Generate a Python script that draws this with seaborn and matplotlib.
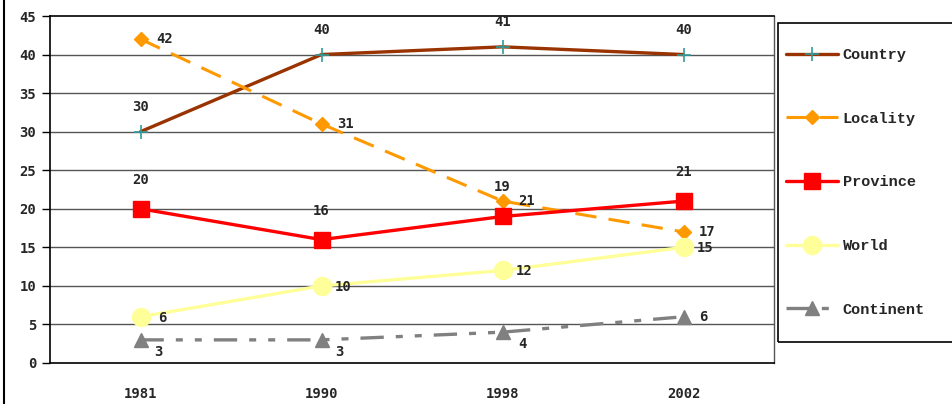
import matplotlib
matplotlib.use("Agg")
import matplotlib.pyplot as plt
import seaborn as sns
import pandas as pd
import numpy as np
from matplotlib.patches import Rectangle
from matplotlib.lines import Line2D

years = ["1981", "1990", "1998", "2002"]
country = [30, 40, 41, 40]
locality = [42, 31, 21, 17]
province = [20, 16, 19, 21]
world = [6, 10, 12, 15]
continent = [3, 3, 4, 6]
series_names = ["Country", "Locality", "Province", "World", "Continent"]
yticks = [0, 5, 10, 15, 20, 25, 30, 35, 40, 45]

sns.set_style("white")
plt.rcParams["font.family"] = ["DejaVu Sans Mono", "DejaVu Sans"]

W, H = 952, 404
fig = plt.figure(figsize=(W / 100, H / 100), dpi=100)
ax = fig.add_axes([50 / W, (H - 363) / H, (774 - 50) / W, (363 - 16) / H])

x = np.arange(len(years))
data = {"Country": country, "Locality": locality, "Province": province,
        "World": world, "Continent": continent}

styles = {
    "Country": dict(color="#993300", ls="-", marker="+", ms=10, mfc="#339999", mec="#339999", mew=1.2, lw=2.4),
    "Locality": dict(color="#FF9900", ls=(0, (7, 4)), marker="D", ms=7, mfc="#FF9900", mec="#FF9900", lw=2.2),
    "Province": dict(color="#FF0000", ls="-", marker="s", ms=11, mfc="#FF0000", mec="#FF0000", lw=2.4),
    "World": dict(color="#FFFF99", ls="-", marker="o", ms=13, mfc="#FFFF99", mec="#FFFF99", lw=2.4),
    "Continent": dict(color="#808080", ls=(0, (7, 3.6, 2.1, 3.6, 2.1, 3.6)), marker="^", ms=10, mfc="#808080", mec="#808080", lw=2.4),
}

# label offsets in pixels (dx, dy)
offsets = {
    "Country": [(0, 25)] * 4,
    "Locality": [(24, 0)] * 4,
    "Province": [(0, 29)] * 4,
    "World": [(22, -1)] * 4,
    "Continent": [(18, -12), (18, -12), (20, -12), (20, 0)],
}

handles = []
for name in series_names:
    df = pd.DataFrame({"x": x, "y": data[name]})
    st = styles[name]
    sns.lineplot(data=df, x="x", y="y", ax=ax, color=st["color"], lw=st["lw"],
                 linestyle=st["ls"], marker=st["marker"], markersize=st["ms"],
                 markerfacecolor=st["mfc"], markeredgecolor=st["mec"],
                 markeredgewidth=st.get("mew", 1), zorder=3)
    handles.append(Line2D([], [], color=st["color"], lw=st["lw"], linestyle=st["ls"],
                          marker=st["marker"], markersize=st["ms"], markerfacecolor=st["mfc"],
                          markeredgecolor=st["mec"], markeredgewidth=st.get("mew", 1)))
    for i, v in enumerate(data[name]):
        dx, dy = offsets[name][i]
        ax.annotate(str(v), (x[i], v), xytext=(dx, dy), textcoords="offset pixels",
                    ha="center", va="center", fontsize=10, fontweight="bold", zorder=5)

ax.set_xlim(-0.5, 3.5)
ax.set_ylim(0, 45)
ax.set_yticks(yticks)
ax.set_yticklabels([str(t) for t in yticks], fontsize=10, fontweight="bold")
ax.set_xticks(x)
ax.set_xticklabels(years, fontsize=10, fontweight="bold")
ax.set_xticks([-0.5, 0.5, 1.5, 2.5, 3.5], minor=True)
ax.tick_params(axis="x", which="major", length=0, pad=17)
ax.tick_params(axis="x", which="minor", length=7, width=1, color="black", direction="out")
ax.tick_params(axis="y", length=6, width=1, color="black", direction="out", left=True, pad=4)
ax.set_xlabel("")
ax.set_ylabel("")
for yv in yticks[1:-1]:
    ax.axhline(yv, color="#555555", lw=1, zorder=1)
for s in ["left", "bottom", "top"]:
    ax.spines[s].set_visible(True)
    ax.spines[s].set_color("black")
    ax.spines[s].set_linewidth(1.2)
ax.spines["right"].set_color("#555555")
ax.spines["right"].set_linewidth(1)

# legend box
fig.patches.append(Rectangle((778 / W, 1 - 342 / H), (W + 10 - 778) / W, (342 - 23) / H,
                             transform=fig.transFigure, fill=False, edgecolor="black", lw=1.2))
leg = fig.legend(handles, series_names, loc="upper left",
                 bbox_to_anchor=(786 / W, 1 - 48 / H), frameon=False,
                 prop={"family": "Liberation Mono", "size": 11, "weight": "bold"},
                 handlelength=3.4, handletextpad=0.3, labelspacing=3.25, borderaxespad=0,
                 borderpad=0)

# left border of the figure
fig.add_artist(Line2D([3.5 / W, 3.5 / W], [0, 1], transform=fig.transFigure, color="black", lw=1.5))

fig.savefig("out.png", dpi=100)
